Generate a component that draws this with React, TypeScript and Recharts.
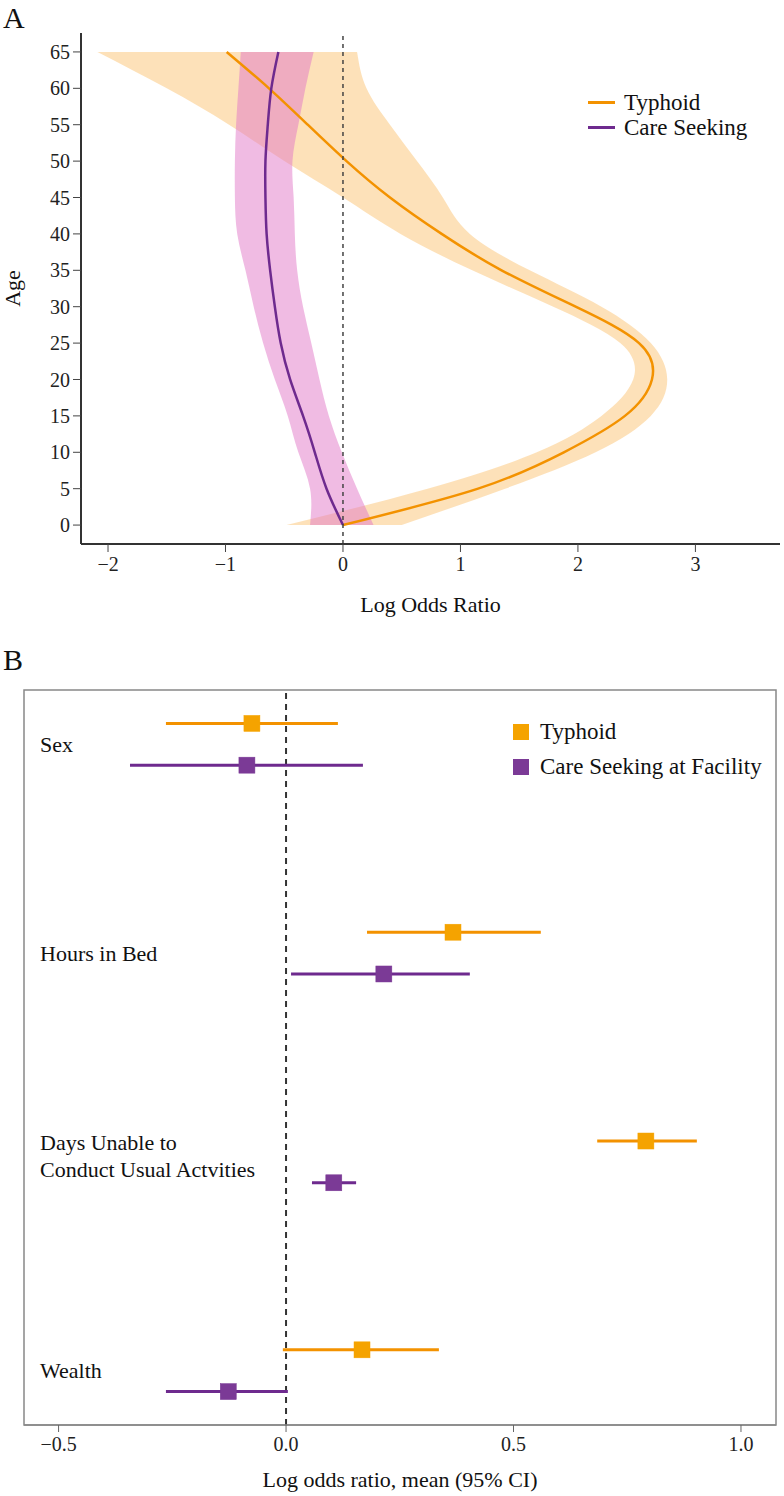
import React from "react";
import {
  Area,
  ComposedChart,
  ErrorBar,
  Label,
  Line,
  ReferenceArea,
  ReferenceLine,
  Scatter,
  ScatterChart,
  XAxis,
  YAxis,
} from "recharts";

const FONT = '"Liberation Serif", "DejaVu Serif", serif';

// Panel A: smooth age effects (log odds ratio by age)
const AGES = [0, 5, 10, 15, 20, 25, 30, 35, 40, 45, 50, 55, 60, 65];
const TYPHOID_MEAN = [0, 1.15, 1.88, 2.4, 2.63, 2.52, 1.98, 1.35, 0.84, 0.4, 0.03, -0.3, -0.63, -0.99];
const TYPHOID_LOW = [-0.48, 0.72, 1.65, 2.2, 2.47, 2.36, 1.79, 1.1, 0.49, 0.0, -0.5, -0.97, -1.5, -2.09];
const TYPHOID_HIGH = [0.5, 1.38, 2.15, 2.62, 2.76, 2.62, 2.2, 1.59, 1.08, 0.85, 0.63, 0.4, 0.2, 0.12];
const CARE_MEAN = [0, -0.14, -0.24, -0.34, -0.45, -0.53, -0.58, -0.62, -0.65, -0.66, -0.66, -0.64, -0.61, -0.55];
const CARE_LOW = [-0.28, -0.28, -0.38, -0.47, -0.58, -0.68, -0.76, -0.83, -0.9, -0.92, -0.92, -0.91, -0.89, -0.87];
const CARE_HIGH = [0.26, 0.12, -0.01, -0.12, -0.2, -0.27, -0.34, -0.39, -0.41, -0.42, -0.43, -0.38, -0.32, -0.25];
const AGE_TICKS = [0, 5, 10, 15, 20, 25, 30, 35, 40, 45, 50, 55, 60, 65];
const LOR_TICKS = [-2, -1, 0, 1, 2, 3];

// Panel B: forest plot
const PREDICTORS = ["Sex", "Hours in Bed", "Days Unable to\nConduct Usual Actvities", "Wealth"];
const TYPHOID_OR = [-0.075, 0.367, 0.791, 0.167];
const TYPHOID_OR_LOW = [-0.264, 0.178, 0.684, -0.007];
const TYPHOID_OR_HIGH = [0.114, 0.56, 0.903, 0.336];
const CARE_OR = [-0.086, 0.215, 0.105, -0.127];
const CARE_OR_LOW = [-0.343, 0.011, 0.057, -0.264];
const CARE_OR_HIGH = [0.169, 0.404, 0.154, 0.004];
const OR_TICKS = [-0.5, 0, 0.5, 1.0];

const ORANGE = "#F39200";
const PURPLE = "#6E2A8E";
const SQ_ORANGE = "#F5A300";
const SQ_PURPLE = "#7B3A96";

const curveRows = AGES.map((age, i) => ({
  age,
  typhoid: TYPHOID_MEAN[i],
  typhoidBand: [TYPHOID_LOW[i], TYPHOID_HIGH[i]],
  care: CARE_MEAN[i],
  careBand: [CARE_LOW[i], CARE_HIGH[i]],
}));

const forestRows = (mean: number[], lo: number[], hi: number[], shift: number) =>
  PREDICTORS.map((name, i) => ({
    name,
    x: mean[i],
    y: i + shift,
    err: [mean[i] - lo[i], hi[i] - mean[i]],
  }));

const typhoidRows = forestRows(TYPHOID_OR, TYPHOID_OR_LOW, TYPHOID_OR_HIGH, -0.1);
const careRows = forestRows(CARE_OR, CARE_OR_LOW, CARE_OR_HIGH, 0.1);

const minus = (v: number, digits?: number) => {
  const s = digits == null ? `${Math.abs(v)}` : Math.abs(v).toFixed(digits);
  return v < 0 ? `\u2212${s}` : s;
};

const square = (color: string) => (props: any) => (
  <rect x={props.cx - 8} y={props.cy - 8} width={16} height={16} fill={color} stroke={color} strokeWidth={0.5} />
);

const RowTick = (props: any) => {
  const lines = String(PREDICTORS[props.payload.value] ?? "").split("\n");
  const start = lines.length > 1 ? -20 : 0;
  return (
    <text x={40} y={props.y} fontFamily={FONT} fontSize={22} fill="#111" textAnchor="start">
      {lines.map((l, k) => (
        <tspan key={k} x={40} y={props.y + start + k * 27} dy="0.35em">
          {l}
        </tspan>
      ))}
    </text>
  );
};

const tickStyle = { fontSize: 20, fill: "#222", fontFamily: FONT };

export default function App() {
  return (
    <div style={{ position: "absolute", left: 0, top: 0, width: 784, height: 1496, background: "#fff", fontFamily: FONT }}>
      <div style={{ position: "absolute", left: 3, top: 0, fontSize: 30, color: "#111", lineHeight: "36px" }}>A</div>
      <div style={{ position: "absolute", left: 3, top: 642, fontSize: 30, color: "#111", lineHeight: "36px" }}>B</div>

      <div style={{ position: "absolute", left: 0, top: 0 }}>
        <ComposedChart
          layout="vertical"
          width={784}
          height={620}
          data={curveRows}
          margin={{ top: 33, right: 4, bottom: 4, left: 0 }}
        >
          <XAxis
            type="number"
            domain={[-2.23, 3.72]}
            ticks={LOR_TICKS}
            allowDataOverflow
            height={72}
            tickSize={8}
            tickMargin={5}
            tick={tickStyle}
            tickFormatter={(v) => minus(v)}
            axisLine={{ stroke: "#333", strokeWidth: 2 }}
            tickLine={{ stroke: "#444" }}
          >
            <Label value="Log Odds Ratio" position="insideBottom" offset={4} style={{ fontSize: 22, fill: "#111", fontFamily: FONT }} />
          </XAxis>
          <YAxis
            type="number"
            dataKey="age"
            domain={[-2.6, 67.6]}
            reversed
            ticks={AGE_TICKS}
            allowDataOverflow
            width={81}
            tickSize={8}
            tickMargin={3}
            tick={tickStyle}
            axisLine={{ stroke: "#333", strokeWidth: 2 }}
            tickLine={{ stroke: "#444" }}
          >
            <Label
              value="Age"
              angle={-90}
              position="insideLeft"
              offset={12}
              style={{ fontSize: 22, fill: "#111", fontFamily: FONT, textAnchor: "middle" }}
            />
          </YAxis>
          <Area
            dataKey="typhoidBand"
            type="natural"
            fill="#FCD9A8"
            fillOpacity={0.8}
            stroke="none"
            isAnimationActive={false}
          />
          <Line dataKey="typhoid" type="natural" stroke={ORANGE} strokeWidth={2.5} dot={false} isAnimationActive={false} />
          <Area
            dataKey="careBand"
            type="natural"
            fill="#E178C8"
            fillOpacity={0.5}
            stroke="none"
            isAnimationActive={false}
          />
          <Line dataKey="care" type="natural" stroke={PURPLE} strokeWidth={2.5} dot={false} isAnimationActive={false} />
          <ReferenceLine x={0} stroke="#444" strokeDasharray="4 4" strokeWidth={1.5} />
        </ComposedChart>
      </div>

      {/* legend A */}
      <div style={{ position: "absolute", left: 588, top: 90, fontSize: 23, color: "#111", lineHeight: "25px" }}>
        {[
          ["Typhoid", ORANGE],
          ["Care Seeking", PURPLE],
        ].map(([name, c]) => (
          <div key={name} style={{ display: "flex", alignItems: "center" }}>
            <span style={{ display: "inline-block", width: 27, height: 3, background: c, marginRight: 9 }} />
            {name}
          </div>
        ))}
      </div>

      <div style={{ position: "absolute", left: 0, top: 640 }}>
        <ScatterChart width={784} height={856} margin={{ top: 50, right: 8, bottom: 0, left: 0 }}>
          <ReferenceArea x1={-0.576} x2={1.077} y1={-0.26} y2={3.26} fill="none" stroke="#888" strokeWidth={1.5} />
          <XAxis
            type="number"
            dataKey="x"
            domain={[-0.576, 1.077]}
            ticks={OR_TICKS}
            allowDataOverflow
            height={71}
            tickSize={7}
            tickMargin={5}
            tick={tickStyle}
            tickFormatter={(v) => minus(v, 1)}
            axisLine={{ stroke: "#888", strokeWidth: 1.5 }}
            tickLine={{ stroke: "#666" }}
          >
            <Label
              value="Log odds ratio, mean (95% CI)"
              position="insideBottom"
              offset={9}
              style={{ fontSize: 22, fill: "#111", fontFamily: FONT }}
            />
          </XAxis>
          <YAxis
            type="number"
            dataKey="y"
            domain={[-0.26, 3.26]}
            reversed
            ticks={[0, 1, 2, 3]}
            allowDataOverflow
            width={24}
            axisLine={false}
            tickLine={false}
            tick={<RowTick />}
          />
          <ReferenceLine x={0} stroke="#333" strokeDasharray="6 5" strokeWidth={2} />
          <Scatter data={typhoidRows} fill={SQ_ORANGE} shape={square(SQ_ORANGE)} isAnimationActive={false}>
            <ErrorBar dataKey="err" direction="x" width={0} stroke={ORANGE} strokeWidth={3} />
          </Scatter>
          <Scatter data={careRows} fill={SQ_PURPLE} shape={square(SQ_PURPLE)} isAnimationActive={false}>
            <ErrorBar dataKey="err" direction="x" width={0} stroke={PURPLE} strokeWidth={3} />
          </Scatter>
        </ScatterChart>
      </div>

      {/* legend B */}
      <div style={{ position: "absolute", left: 513, top: 714, fontSize: 23, color: "#111", lineHeight: "35px" }}>
        {[
          ["Typhoid", SQ_ORANGE],
          ["Care Seeking at Facility", SQ_PURPLE],
        ].map(([name, c]) => (
          <div key={name} style={{ display: "flex", alignItems: "center" }}>
            <span style={{ display: "inline-block", width: 16, height: 16, background: c, marginRight: 11 }} />
            {name}
          </div>
        ))}
      </div>
    </div>
  );
}
